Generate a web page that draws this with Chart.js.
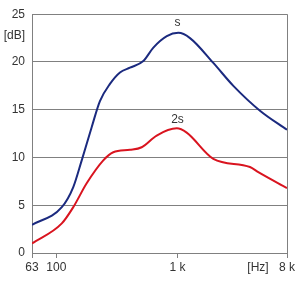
<!DOCTYPE html>
<html>
<head>
<meta charset="utf-8">
<script src="https://cdn.jsdelivr.net/npm/chart.js@4"></script>
<style>
html,body{margin:0;padding:0;background:#fff;}
#wrap{width:300px;height:281px;position:relative;}
</style>
</head>
<body>
<div id="wrap"><canvas id="c" width="300" height="281"></canvas></div>
<script>
// Frequencies [Hz] and levels [dB]
const freqS = [63, 111, 138, 162, 196, 229, 277, 335, 405, 522, 632, 816, 1015, 1267, 1973, 2887, 4788, 8000];
const levelS = [2.95, 4.8, 6.9, 9.7, 13.2, 15.9, 17.7, 18.9, 19.4, 20.1, 21.5, 22.7, 23.05, 22.5, 19.9, 17.5, 14.9, 12.9];
const freq2S = [63, 111, 138, 178, 244, 295, 405, 506, 673, 985, 1190, 1973, 3960, 4637, 8000];
const level2S = [1.0, 3.1, 4.8, 7.3, 9.7, 10.55, 10.8, 11.07, 12.3, 13.05, 12.6, 9.86, 9.0, 8.47, 6.8];
const xTickValues = [63, 100, 1000, 4611, 8000];
const xTickLabels = ["63", "100", "1 k", "[Hz]", "8 k"];
const yTickValues = [0, 5, 10, 15, 20, 25];
const seriesLabels = ["s", "2s"];
const labelPos = [[1000, 24.1], [1000, 14.0]];

const FONT = "'Liberation Sans Narrow', 'Liberation Sans', Arial, sans-serif";
const GRID = '#808080';

const annot = {
  id: 'annot',
  afterDatasetsDraw(chart) {
    const {ctx, scales} = chart;
    ctx.save();
    ctx.fillStyle = '#333';
    ctx.font = '12px ' + FONT;
    ctx.textAlign = 'center';
    ctx.textBaseline = 'middle';
    seriesLabels.forEach((t, i) => {
      ctx.fillText(t, scales.x.getPixelForValue(labelPos[i][0]), scales.y.getPixelForValue(labelPos[i][1]));
    });
    ctx.textAlign = 'right';
    ctx.fillText('[dB]', scales.x.left - 7, scales.y.getPixelForValue(22.8));
    ctx.restore();
  }
};

new Chart(document.getElementById('c'), {
  type: 'line',
  data: {
    datasets: [
      { label: 's', data: freqS.map((f, i) => ({x: f, y: levelS[i]})), borderColor: '#1b2a7f', borderWidth: 2, pointRadius: 0, cubicInterpolationMode: 'monotone', fill: false },
      { label: '2s', data: freq2S.map((f, i) => ({x: f, y: level2S[i]})), borderColor: '#d9141f', borderWidth: 2, pointRadius: 0, cubicInterpolationMode: 'monotone', fill: false }
    ]
  },
  options: {
    responsive: false,
    animation: false,
    devicePixelRatio: 1,
    layout: { padding: { top: 13, right: 13, left: 0, bottom: 0 } },
    plugins: { legend: { display: false }, tooltip: { enabled: false } },
    scales: {
      x: {
        type: 'logarithmic',
        min: 63, max: 8000,
        afterBuildTicks(scale) { scale.ticks = xTickValues.map(v => ({value: v})); },
        afterFit(scale) { scale.height = 28; },
        border: { display: true, color: GRID, width: 1 },
        grid: {
          drawOnChartArea: false,
          drawTicks: true,
          tickLength: 5,
          color: GRID,
          tickColor: ctx => (ctx.tick && ctx.tick.value === 4611) ? 'rgba(0,0,0,0)' : GRID
        },
        ticks: {
          autoSkip: false, maxRotation: 0, padding: 2,
          color: '#333', font: { family: FONT, size: 12 },
          callback: (v) => { const i = xTickValues.indexOf(v); return i >= 0 ? xTickLabels[i] : ''; }
        }
      },
      y: {
        min: 0, max: 25,
        afterBuildTicks(scale) { scale.ticks = yTickValues.map(v => ({value: v})); },
        afterFit(scale) { scale.width = 32; },
        border: { display: true, color: GRID, width: 1 },
        grid: { color: GRID, lineWidth: 1, drawTicks: false, tickLength: 0 },
        ticks: { padding: 7, color: '#333', font: { family: FONT, size: 12 } }
      }
    }
  },
  plugins: [annot, {
    id: 'rightBorder',
    afterDraw(chart) {
      const {ctx, chartArea} = chart;
      ctx.save();
      ctx.strokeStyle = GRID; ctx.lineWidth = 1;
      ctx.beginPath();
      ctx.moveTo(Math.round(chartArea.right) + 0.5, chartArea.top);
      ctx.lineTo(Math.round(chartArea.right) + 0.5, chartArea.bottom + 5);
      ctx.stroke();
      ctx.restore();
    }
  }]
});
</script>
</body>
</html>
